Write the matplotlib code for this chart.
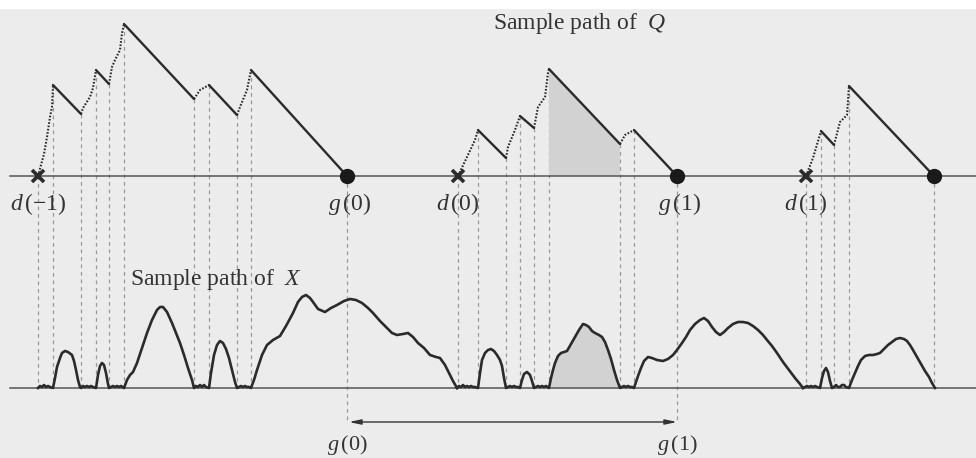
import matplotlib
matplotlib.use("Agg")
import matplotlib.pyplot as plt
from matplotlib.patches import Polygon, Rectangle

plt.rcParams["font.family"] = ["Liberation Serif", "DejaVu Serif"]
plt.rcParams["mathtext.fontset"] = "custom"
plt.rcParams["mathtext.rm"] = "Liberation Serif"
plt.rcParams["mathtext.it"] = "Liberation Serif:italic"

# Q sample path: per busy cycle, the dotted rises as (x, q) points;
# solid descents join one rise to the next and the last rise to the end point
q_cycle1_rises = [
    [(38, 0), (44, 22), (47, 39), (50, 59), (52, 69), (53, 91)],
    [(81, 62), (83, 68), (90, 79), (93, 88), (96, 106)],
    [(109, 92), (112, 109), (115, 116), (120, 126), (122, 143), (124, 152)],
    [(194, 77), (200, 86), (209, 91)],
    [(237, 61), (240, 69), (247, 86), (251, 106)],
]
q_cycle2_rises = [
    [(458, 0), (467, 19), (475, 36), (478, 46)],
    [(506, 18), (508, 29), (515, 46), (520, 60)],
    [(534, 48), (538, 69), (545, 79), (548, 103), (549, 107)],
    [(620, 32), (625, 41), (634, 46)],
]
q_cycle3_rises = [
    [(806, 0), (813, 18), (821, 45)],
    [(834, 31), (840, 54), (847, 61), (849, 90)],
]
q_cycle_ends = [347, 677, 934]
q_cycle_labels = [(r"$d\,(-1)$", r"$g\,(0)$"), (r"$d\,(0)$", r"$g\,(1)$"), (r"$d\,(1)$", None)]

# X sample path as (x, value) points
x_path_a = [
    (38, 0), (40, 2), (42, 1), (44, 3), (46, 1), (48, 2), (50, 1),
    (53, 0), (55, 10), (57, 21), (60, 30), (62, 35), (65, 37), (68, 36), (72, 33), (74, 27), (76, 18), (78, 8), (80, 1),
    (81, 0), (83, 2), (85, 1), (87, 2), (89, 1), (91, 2), (93, 1),
    (96, 0), (98, 13), (100, 22), (102, 25), (104, 23), (106, 15), (108, 4),
    (109, 0), (111, 1), (113, 2), (115, 1), (117, 2), (119, 1), (121, 2),
    (124, 0), (127, 8), (130, 13), (133, 16), (137, 25), (142, 40), (147, 55), (152, 68), (157, 78), (160, 81),
    (163, 81), (167, 76), (172, 65), (176, 55), (180, 45), (184, 33), (188, 20), (192, 8),
    (194, 0), (196, 2), (198, 1), (200, 3), (202, 1), (204, 3), (206, 1),
    (209, 0), (211, 15), (214, 33), (217, 43), (220, 47), (223, 45), (226, 39), (229, 30), (232, 18), (235, 6),
    (237, 0), (239, 1), (241, 2), (243, 1), (245, 2), (247, 1), (249, 1),
    (251, 0), (254, 8), (257, 18), (262, 33), (267, 43), (273, 48), (280, 52), (286, 62), (293, 75), (298, 86),
    (302, 91), (306, 93), (310, 90), (313, 86), (318, 79), (325, 76), (331, 80), (337, 83), (344, 87), (350, 89),
    (356, 88), (362, 85), (368, 80), (373, 75), (380, 67), (387, 60), (392, 55), (397, 53), (403, 54), (408, 55),
    (413, 51), (418, 45), (424, 40), (430, 33), (436, 31), (440, 30), (445, 23), (449, 15), (453, 7), (457, 0),
]
x_path_b = [
    (457, 0), (459, 2), (461, 1), (463, 3), (465, 1), (467, 2), (469, 1), (471, 2), (473, 1), (475, 1),
    (478, 0), (480, 15), (482, 28), (485, 35), (488, 38), (491, 39), (494, 37), (497, 33), (500, 28), (502, 22), (504, 10),
    (506, 0), (508, 1), (510, 2), (512, 1), (514, 2), (516, 1), (518, 1),
    (520, 0), (522, 8), (524, 14), (527, 16), (530, 13), (532, 7),
    (534, 0), (536, 1), (538, 2), (540, 1), (542, 2), (544, 1), (546, 2),
    (549, 0), (551, 10), (553, 18), (555, 25), (558, 32), (561, 35), (564, 36), (567, 37), (571, 44), (575, 51),
    (579, 58), (583, 64), (586, 63), (589, 61), (592, 57), (595, 55), (599, 53), (602, 51), (605, 46), (608, 38),
    (611, 29), (614, 18), (617, 8),
    (620, 0), (622, 1), (624, 2), (626, 1), (628, 2), (630, 1), (632, 1),
    (634, 0), (636, 6), (638, 12), (641, 20), (644, 27), (648, 31), (652, 30), (657, 28), (663, 27), (668, 29),
    (673, 33), (677, 38), (682, 45), (686, 51), (690, 58), (695, 64), (700, 68), (704, 70), (708, 67), (712, 61),
    (716, 56), (720, 53), (724, 56), (728, 60), (733, 64), (738, 66), (743, 66), (748, 65), (753, 62), (758, 58),
    (763, 53), (767, 48), (772, 42), (777, 35), (783, 26), (789, 18), (795, 10), (800, 4), (803, 0),
]
x_path_c = [
    (803, 0), (805, 1), (807, 2), (809, 1), (811, 2), (813, 1), (815, 2), (817, 1),
    (820, 0), (822, 10), (824, 17), (826, 20), (828, 16), (830, 7),
    (832, 0), (834, 1), (836, 3), (838, 1), (840, 1), (842, 3), (844, 3), (846, 1),
    (849, 0), (852, 8), (855, 15), (858, 22), (861, 28), (865, 32), (869, 33), (873, 33), (877, 34), (880, 35),
    (884, 39), (888, 43), (892, 46), (896, 49), (900, 50), (904, 49), (907, 47), (910, 43), (913, 38), (917, 31),
    (921, 24), (925, 17), (929, 11), (932, 5), (935, 0),
]
shade_span = (549, 620)

# layout levels (figure units, y up)
Q_BASE = 282
X_BASE = 70
ARROW_Y = 36
INK = "#2b2b2b"
BG = "#ececec"

fig = plt.figure(figsize=(9.76, 4.58), dpi=100, facecolor=BG)
ax = fig.add_axes([0, 0, 1, 1])
ax.set_xlim(0, 976)
ax.set_ylim(0, 458)
ax.axis("off")
ax.add_patch(Rectangle((0, 450), 976, 8, color="white", zorder=0))

# base lines
ax.plot([10, 976], [Q_BASE, Q_BASE], color="#555555", lw=1.1, zorder=2)
ax.plot([10, 976], [X_BASE, X_BASE], color="#555555", lw=1.1, zorder=2)

dash_kw = dict(color="#9a9a9a", lw=0.9, ls=(0, (3, 3)), zorder=1)

for rises, end, (dlab, glab) in zip([q_cycle1_rises, q_cycle2_rises, q_cycle3_rises],
                                    q_cycle_ends, q_cycle_labels):
    for i, rise in enumerate(rises):
        xs = [p[0] for p in rise]
        ys = [Q_BASE + p[1] for p in rise]
        ax.plot(xs, ys, color=INK, lw=1.5, ls=(0, (0.8, 0.8)), zorder=3)
        if i + 1 < len(rises):
            nxt = rises[i + 1][0]
        else:
            nxt = (end, 0)
        ax.plot([rise[-1][0], nxt[0]], [Q_BASE + rise[-1][1], Q_BASE + nxt[1]],
                color=INK, lw=1.7, solid_capstyle="round", zorder=3)
        # guide lines down to the X path
        for p in (rise[0], rise[-1]):
            ax.plot([p[0], p[0]], [Q_BASE + p[1], X_BASE], **dash_kw)
    start = rises[0][0][0]
    low = ARROW_Y if glab else X_BASE
    ax.plot([end, end], [Q_BASE, low], **dash_kw)
    ax.plot(start, Q_BASE, marker="x", ms=8, mew=2.6, color=INK, zorder=4)
    ax.plot(end, Q_BASE, marker="o", ms=10, color="#1a1a1a", zorder=4)
    ax.text(start, 248, dlab, fontsize=17, ha="center", va="baseline", color="#333333", zorder=5)
    if glab:
        ax.text(end + 3, 248, glab, fontsize=17, ha="center", va="baseline", color="#333333", zorder=5)
        ax.text(end, 1, glab, fontsize=16, ha="center", va="bottom", color="#333333", zorder=5)

# shaded piece of the Q path
q_shade = q_cycle2_rises[2][-1], q_cycle2_rises[3][0]
ax.add_patch(Polygon([(q_shade[0][0], Q_BASE), (q_shade[0][0], Q_BASE + q_shade[0][1]),
                      (q_shade[1][0], Q_BASE + q_shade[1][1]), (q_shade[1][0], Q_BASE)],
                     closed=True, facecolor="#d2d2d2", edgecolor="none", zorder=1.5))

# X path
for path in (x_path_a, x_path_b, x_path_c):
    xs = [p[0] for p in path]
    ys = [X_BASE + p[1] for p in path]
    ax.plot(xs, ys, color=INK, lw=1.9, solid_joinstyle="round", zorder=3)
sx = [p[0] for p in x_path_b if shade_span[0] <= p[0] <= shade_span[1]]
sy = [X_BASE + p[1] for p in x_path_b if shade_span[0] <= p[0] <= shade_span[1]]
ax.fill_between(sx, X_BASE, sy, color="#d2d2d2", lw=0, zorder=1.5)

# arrow between g(0) and g(1)
ax.annotate("", xy=(q_cycle_ends[1], ARROW_Y), xytext=(q_cycle_ends[0] + 2, ARROW_Y),
            arrowprops=dict(arrowstyle="<|-|>,head_length=0.7,head_width=0.15",
                            color="#333333", lw=1.0, shrinkA=0, shrinkB=0))

ax.text(493, 429, r"Sample path of  $Q$", fontsize=17, ha="left", va="baseline", color="#333333")
ax.text(130, 173, r"Sample path of  $X$", fontsize=17, ha="left", va="baseline", color="#333333")

fig.savefig("out.png", dpi=100, facecolor=BG)
